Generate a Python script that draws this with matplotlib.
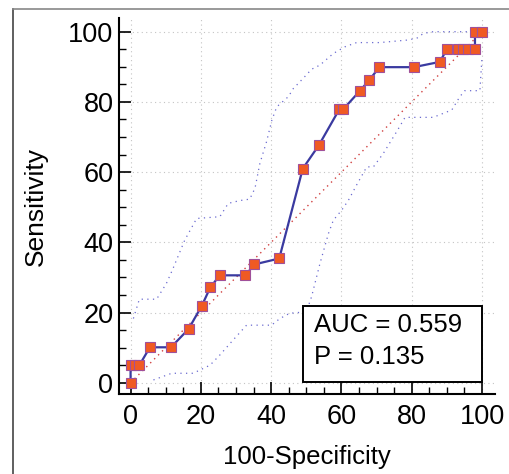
import numpy as np
import matplotlib.pyplot as plt
from matplotlib.patches import Rectangle
from matplotlib.ticker import MultipleLocator

# ROC curve points (100-Specificity, Sensitivity)
roc_x = [0, 0, 1.2, 2.5, 5.5, 11.5, 16.5, 20.3, 22.7, 25.4, 32.7, 35.2, 42.3,
         49.0, 53.6, 59.4, 60.5, 65.3, 67.9, 70.8, 80.6, 88.0, 90.0, 93.3,
         94.7, 96.1, 98.0, 98.0, 100]
roc_y = [0, 5.0, 5.0, 5.0, 10.1, 10.1, 15.3, 22.0, 27.2, 30.6, 30.6, 33.7, 35.4,
         61.0, 67.7, 77.9, 77.9, 83.2, 86.2, 89.9, 89.9, 91.4, 95.0, 95.0,
         95.0, 95.0, 95.0, 100, 100]

# confidence bounds
upper_x = [0.8, 2.5, 7.4, 10.2, 12.1, 15.4, 18.8, 25.4, 27.8, 31.1, 33.9, 35.4,
           36.8, 38.7, 40.2, 41.6, 44.9, 46.3, 49.1, 51.5, 53.9, 57.7, 61.0,
           64.3, 70.9, 78.5, 81.4, 83.3, 86.1, 100]
upper_y = [18.3, 23.8, 23.8, 28.3, 32.6, 40.6, 46.8, 47.3, 51.1, 51.9, 52.3, 55.4,
           62.5, 68.7, 74.8, 78.6, 81.5, 83.8, 86.7, 89.3, 90.5, 93.8, 95.7,
           96.9, 96.9, 97.6, 98.1, 99.5, 100, 100]
lower_x = [6.5, 11.7, 17.8, 22.6, 25.4, 29.2, 33.0, 36.8, 40.1, 42.5, 45.3, 50.0,
           51.5, 53.9, 56.3, 57.7, 60.1, 62.0, 64.3, 67.2, 69.1, 71.9, 75.7,
           78.1, 86.1, 91.4, 93.7, 95.1, 99.4, 100]
lower_y = [0.8, 2.7, 2.7, 5.0, 7.9, 12.2, 16.4, 16.4, 16.4, 18.3, 19.8, 20.2,
           24.5, 34.0, 42.5, 46.3, 49.2, 52.0, 56.3, 61.5, 61.5, 65.3, 71.5,
           75.6, 75.6, 77.7, 81.5, 83.2, 83.2, 92.8]

auc_label = "AUC = 0.559"
p_label = "P = 0.135"

plt.rcParams['font.family'] = ['Liberation Sans', 'DejaVu Sans']

fig = plt.figure(figsize=(5.1, 4.74), dpi=100)
ax = fig.add_axes([0.2333, 0.1688, 0.7373, 0.7932])

# outer frame
fig.add_artist(plt.Line2D([0.0255, 0.0255], [0, 0.981], color='#444444', lw=1.2))
fig.add_artist(plt.Line2D([0.0255, 1.0], [0.981, 0.981], color='#888888', lw=1.2))

for v in [0, 20, 40, 60, 80, 100]:
    ax.axvline(v, color='#c4c4c4', lw=0.8, ls=(0, (1, 3)), zorder=0)
    ax.axhline(v, color='#c4c4c4', lw=0.8, ls=(0, (1, 3)), zorder=0)

ax.plot([0, 100], [0, 100], color='#d04040', lw=1.0, ls=(0, (1, 3)), zorder=1)
ax.plot(upper_x, upper_y, color='#6a6ad0', lw=0.9, ls=(0, (1, 3.5)), zorder=1)
ax.plot(lower_x, lower_y, color='#6a6ad0', lw=0.9, ls=(0, (1, 3.5)), zorder=1)

ax.plot(roc_x, roc_y, color='#3a3aa0', lw=1.6, marker='s', markersize=6.5,
        markerfacecolor='#f05a23', markeredgecolor='#a0509a', markeredgewidth=0.8,
        zorder=3)

ax.add_patch(Rectangle((49.0, 0.2), 51.0, 21.7, facecolor='white',
                       edgecolor='black', lw=1.4, zorder=4))
ax.text(52.3, 16.4, auc_label, fontsize=18.5, va='center', ha='left', zorder=5)
ax.text(52.3, 7.4, p_label, fontsize=18.5, va='center', ha='left', zorder=5)

ax.set_xlim(-3.3, 103.7)
ax.set_ylim(-3.2, 103.9)
for s in ['top', 'right']:
    ax.spines[s].set_visible(False)
for s in ['left', 'bottom']:
    ax.spines[s].set_linewidth(1.5)

ax.xaxis.set_major_locator(MultipleLocator(20))
ax.yaxis.set_major_locator(MultipleLocator(20))
ax.xaxis.set_minor_locator(MultipleLocator(5))
ax.yaxis.set_minor_locator(MultipleLocator(5))
ax.tick_params(which='major', direction='in', length=8.5, width=1.2, labelsize=19.5)
ax.tick_params(which='minor', direction='in', length=5, width=1.0)
ax.tick_params(axis='y', pad=4)
ax.tick_params(axis='x', pad=7)

ax.set_xlabel('100-Specificity', fontsize=18.5, labelpad=11)
ax.set_ylabel('Sensitivity', fontsize=19, labelpad=15)

fig.savefig('out.png', dpi=100)
